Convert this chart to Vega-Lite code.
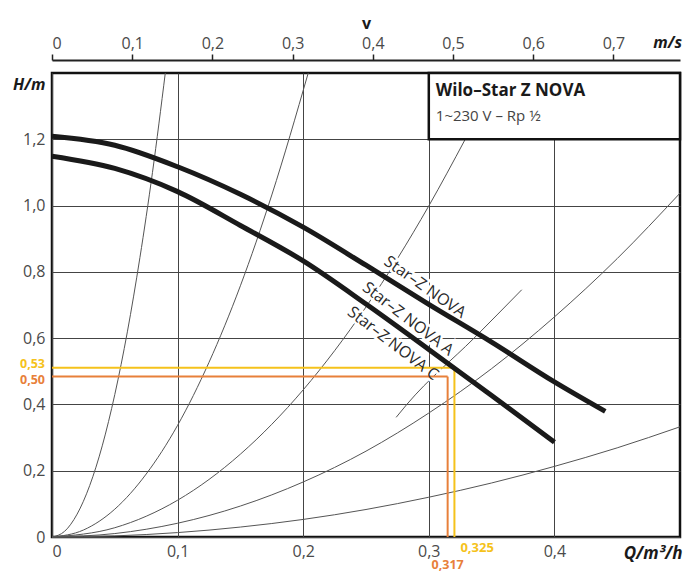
{
  "$schema": "https://vega.github.io/schema/vega-lite/v6.json",
  "width": 628,
  "height": 464,
  "autosize": "none",
  "padding": {"left": 52, "top": 73, "right": 6, "bottom": 36},
  "background": "white",
  "config": {
    "view": {"stroke": "#111111", "strokeWidth": 2.5},
    "axis": {"labelFont": "Open Sans", "titleFont": "Open Sans", "labelColor": "#4a4a4a", "labelFontSize": 16, "titleColor": "#1a1a1a"}
  },
  "datasets": {
    "pump": [
      {"series": "NOVA", "Q": 0, "H": 1.209},
      {"series": "NOVA", "Q": 0.05, "H": 1.182},
      {"series": "NOVA", "Q": 0.1, "H": 1.117},
      {"series": "NOVA", "Q": 0.15, "H": 1.034},
      {"series": "NOVA", "Q": 0.2, "H": 0.935},
      {"series": "NOVA", "Q": 0.25, "H": 0.82},
      {"series": "NOVA", "Q": 0.3, "H": 0.702},
      {"series": "NOVA", "Q": 0.35, "H": 0.588},
      {"series": "NOVA", "Q": 0.4, "H": 0.468},
      {"series": "NOVA", "Q": 0.4405, "H": 0.379},
      {"series": "NOVA A/C", "Q": 0, "H": 1.149},
      {"series": "NOVA A/C", "Q": 0.05, "H": 1.112},
      {"series": "NOVA A/C", "Q": 0.1, "H": 1.042},
      {"series": "NOVA A/C", "Q": 0.15, "H": 0.94},
      {"series": "NOVA A/C", "Q": 0.2, "H": 0.833},
      {"series": "NOVA A/C", "Q": 0.25, "H": 0.703},
      {"series": "NOVA A/C", "Q": 0.3, "H": 0.566},
      {"series": "NOVA A/C", "Q": 0.35, "H": 0.427},
      {"series": "NOVA A/C", "Q": 0.4, "H": 0.286}
    ],
    "system": [
      {"curve": "s1", "Q": 0, "H": 0},
      {"curve": "s1", "Q": 0.01, "H": 0.017},
      {"curve": "s1", "Q": 0.02, "H": 0.069},
      {"curve": "s1", "Q": 0.03, "H": 0.155},
      {"curve": "s1", "Q": 0.04, "H": 0.275},
      {"curve": "s1", "Q": 0.05, "H": 0.43},
      {"curve": "s1", "Q": 0.06, "H": 0.619},
      {"curve": "s1", "Q": 0.07, "H": 0.843},
      {"curve": "s1", "Q": 0.08, "H": 1.1},
      {"curve": "s1", "Q": 0.0902, "H": 1.4},
      {"curve": "s2", "Q": 0, "H": 0},
      {"curve": "s2", "Q": 0.025, "H": 0.021},
      {"curve": "s2", "Q": 0.05, "H": 0.084},
      {"curve": "s2", "Q": 0.075, "H": 0.19},
      {"curve": "s2", "Q": 0.1, "H": 0.337},
      {"curve": "s2", "Q": 0.125, "H": 0.527},
      {"curve": "s2", "Q": 0.15, "H": 0.758},
      {"curve": "s2", "Q": 0.175, "H": 1.032},
      {"curve": "s2", "Q": 0.204, "H": 1.4},
      {"curve": "s3", "Q": 0, "H": 0},
      {"curve": "s3", "Q": 0.05, "H": 0.028},
      {"curve": "s3", "Q": 0.1, "H": 0.111},
      {"curve": "s3", "Q": 0.15, "H": 0.25},
      {"curve": "s3", "Q": 0.2, "H": 0.444},
      {"curve": "s3", "Q": 0.25, "H": 0.694},
      {"curve": "s3", "Q": 0.3, "H": 0.999},
      {"curve": "s3", "Q": 0.329, "H": 1.2},
      {"curve": "s4", "Q": 0, "H": 0},
      {"curve": "s4", "Q": 0.05, "H": 0.0104},
      {"curve": "s4", "Q": 0.1, "H": 0.0415},
      {"curve": "s4", "Q": 0.15, "H": 0.0934},
      {"curve": "s4", "Q": 0.2, "H": 0.166},
      {"curve": "s4", "Q": 0.25, "H": 0.259},
      {"curve": "s4", "Q": 0.3, "H": 0.374},
      {"curve": "s4", "Q": 0.35, "H": 0.508},
      {"curve": "s4", "Q": 0.4, "H": 0.664},
      {"curve": "s4", "Q": 0.45, "H": 0.84},
      {"curve": "s4", "Q": 0.5, "H": 1.0375},
      {"curve": "s5", "Q": 0, "H": 0},
      {"curve": "s5", "Q": 0.05, "H": 0.0033},
      {"curve": "s5", "Q": 0.1, "H": 0.0133},
      {"curve": "s5", "Q": 0.15, "H": 0.03},
      {"curve": "s5", "Q": 0.2, "H": 0.053},
      {"curve": "s5", "Q": 0.25, "H": 0.083},
      {"curve": "s5", "Q": 0.3, "H": 0.12},
      {"curve": "s5", "Q": 0.35, "H": 0.163},
      {"curve": "s5", "Q": 0.4, "H": 0.213},
      {"curve": "s5", "Q": 0.45, "H": 0.269},
      {"curve": "s5", "Q": 0.5, "H": 0.3325},
      {"curve": "seg", "Q": 0.274, "H": 0.361},
      {"curve": "seg", "Q": 0.2825, "H": 0.4},
      {"curve": "seg", "Q": 0.336, "H": 0.6},
      {"curve": "seg", "Q": 0.374, "H": 0.746}
    ],
    "curveLabels": [
      {"text": "Star–Z NOVA", "Q": 0.297, "H": 0.754},
      {"text": "Star–Z NOVA A", "Q": 0.2835, "H": 0.658},
      {"text": "Star–Z NOVA C", "Q": 0.2715, "H": 0.584}
    ],
    "markers": [
      {"m": "y", "Q": 0.3204, "Q2": 0.3204, "H": 0, "H2": 0.511},
      {"m": "y", "Q": 0, "Q2": 0.3204, "H": 0.511, "H2": 0.511},
      {"m": "o", "Q": 0.315, "Q2": 0.315, "H": 0, "H2": 0.484},
      {"m": "o", "Q": 0, "Q2": 0.315, "H": 0.484, "H2": 0.484}
    ]
  },
  "resolve": {"scale": {"x": "independent"}},
  "layer": [
    {
      "layer": [
        {
          "data": {"name": "system"},
          "mark": {"type": "line", "color": "#555555", "strokeWidth": 1, "interpolate": "monotone"},
          "encoding": {
            "x": {"field": "Q", "type": "quantitative", "scale": {"domain": [0, 0.5], "nice": false, "zero": false},
              "axis": {"title": "Q/m³/h", "values": [0, 0.1, 0.2, 0.3, 0.4], "grid": true, "gridColor": "#444444", "gridWidth": 1, "domain": false, "ticks": false, "tickSize": 0, "labelPadding": 6,
                "labelExpr": "datum.value == 0 ? '0' : replace(format(datum.value, '.1f'), '.', ',')",
                "titleFontSize": 17, "titleFontWeight": "bold", "titleFontStyle": "italic", "titleAlign": "right", "titleAnchor": null, "titleX": 630, "titleY": 16, "titleBaseline": "middle"}},
            "y": {"field": "H", "type": "quantitative", "scale": {"domain": [0, 1.4], "nice": false},
              "axis": {"title": "H/m", "values": [0, 0.2, 0.4, 0.6, 0.8, 1.0, 1.2], "grid": true, "gridColor": "#444444", "gridWidth": 1, "domain": false, "ticks": false, "tickSize": 0, "labelPadding": 7,
                "labelExpr": "datum.value == 0 ? '0' : replace(format(datum.value, '.1f'), '.', ',')",
                "titleFontSize": 16, "titleFontWeight": "bold", "titleFontStyle": "italic", "titleAngle": 0, "titleAlign": "right", "titleX": -7, "titleY": 11, "titleBaseline": "middle"}},
            "detail": {"field": "curve"}
          }
        },
        {
          "data": {"name": "curveLabels"},
          "transform": [{"filter": "datum.text == 'Star–Z NOVA'"}],
          "mark": {"type": "text", "font": "Open Sans", "fontSize": 16, "angle": 35, "stroke": "white", "strokeWidth": 5, "color": "white"},
          "encoding": {"x": {"field": "Q", "type": "quantitative"}, "y": {"field": "H", "type": "quantitative"}, "text": {"field": "text"}}
        },
        {
          "data": {"name": "curveLabels"},
          "transform": [{"filter": "datum.text != 'Star–Z NOVA'"}],
          "mark": {"type": "text", "font": "Open Sans", "fontSize": 16, "angle": 37.5, "stroke": "white", "strokeWidth": 5, "color": "white"},
          "encoding": {"x": {"field": "Q", "type": "quantitative"}, "y": {"field": "H", "type": "quantitative"}, "text": {"field": "text"}}
        },
        {
          "data": {"name": "markers"},
          "mark": {"type": "rule", "strokeWidth": 2},
          "encoding": {
            "x": {"field": "Q", "type": "quantitative"},
            "x2": {"field": "Q2"},
            "y": {"field": "H", "type": "quantitative"},
            "y2": {"field": "H2"},
            "color": {"field": "m", "type": "nominal", "scale": {"domain": ["y", "o"], "range": ["#f5c21b", "#e8803a"]}, "legend": null}
          }
        },
        {
          "data": {"name": "pump"},
          "mark": {"type": "line", "color": "#1a1a1a", "strokeWidth": 5, "interpolate": "monotone"},
          "encoding": {
            "x": {"field": "Q", "type": "quantitative"},
            "y": {"field": "H", "type": "quantitative"},
            "detail": {"field": "series"}
          }
        },
        {
          "data": {"name": "curveLabels"},
          "transform": [{"filter": "datum.text == 'Star–Z NOVA'"}],
          "mark": {"type": "text", "font": "Open Sans", "fontSize": 16, "angle": 35, "color": "#2a2a2a"},
          "encoding": {"x": {"field": "Q", "type": "quantitative"}, "y": {"field": "H", "type": "quantitative"}, "text": {"field": "text"}}
        },
        {
          "data": {"name": "curveLabels"},
          "transform": [{"filter": "datum.text != 'Star–Z NOVA'"}],
          "mark": {"type": "text", "font": "Open Sans", "fontSize": 16, "angle": 37.5, "color": "#2a2a2a"},
          "encoding": {"x": {"field": "Q", "type": "quantitative"}, "y": {"field": "H", "type": "quantitative"}, "text": {"field": "text"}}
        },
        {
          "data": {"values": [{"t": "0,53", "Q": 0, "H": 0.511}]},
          "mark": {"type": "text", "font": "Open Sans", "fontSize": 12.5, "fontWeight": "bold", "color": "#f5c21b", "align": "right", "baseline": "middle", "dx": -7, "dy": -4},
          "encoding": {"x": {"field": "Q", "type": "quantitative"}, "y": {"field": "H", "type": "quantitative"}, "text": {"field": "t"}}
        },
        {
          "data": {"values": [{"t": "0,50", "Q": 0, "H": 0.484}]},
          "mark": {"type": "text", "font": "Open Sans", "fontSize": 12.5, "fontWeight": "bold", "color": "#e8803a", "align": "right", "baseline": "middle", "dx": -7, "dy": 3},
          "encoding": {"x": {"field": "Q", "type": "quantitative"}, "y": {"field": "H", "type": "quantitative"}, "text": {"field": "t"}}
        },
        {
          "data": {"values": [{"t": "0,325", "Q": 0.3204, "H": 0}]},
          "mark": {"type": "text", "font": "Open Sans", "fontSize": 13, "fontWeight": "bold", "color": "#f5c21b", "align": "left", "baseline": "middle", "dx": 6, "dy": 11},
          "encoding": {"x": {"field": "Q", "type": "quantitative"}, "y": {"field": "H", "type": "quantitative"}, "text": {"field": "t"}}
        },
        {
          "data": {"values": [{"t": "0,317", "Q": 0.315, "H": 0}]},
          "mark": {"type": "text", "font": "Open Sans", "fontSize": 12.5, "fontWeight": "bold", "color": "#e8803a", "align": "center", "baseline": "middle", "dx": 0, "dy": 28},
          "encoding": {"x": {"field": "Q", "type": "quantitative"}, "y": {"field": "H", "type": "quantitative"}, "text": {"field": "t"}}
        },
        {
          "data": {"values": [{"Q": 0.3, "Q2": 0.5, "H": 1.2, "H2": 1.4}]},
          "mark": {"type": "rect", "fill": "white", "stroke": "#111111", "strokeWidth": 2.5},
          "encoding": {
            "x": {"field": "Q", "type": "quantitative"},
            "x2": {"field": "Q2"},
            "y": {"field": "H", "type": "quantitative"},
            "y2": {"field": "H2"}
          }
        },
        {
          "data": {"values": [{"t": "Wilo–Star Z NOVA", "Q": 0.3, "H": 1.4}]},
          "mark": {"type": "text", "font": "Open Sans", "fontSize": 17, "fontWeight": "bold", "color": "#1a1a1a", "align": "left", "baseline": "middle", "dx": 7, "dy": 18},
          "encoding": {"x": {"field": "Q", "type": "quantitative"}, "y": {"field": "H", "type": "quantitative"}, "text": {"field": "t"}}
        },
        {
          "data": {"values": [{"t": "1~230 V – Rp ½", "Q": 0.3, "H": 1.4}]},
          "mark": {"type": "text", "font": "Open Sans", "fontSize": 15, "color": "#444444", "align": "left", "baseline": "middle", "dx": 7, "dy": 43},
          "encoding": {"x": {"field": "Q", "type": "quantitative"}, "y": {"field": "H", "type": "quantitative"}, "text": {"field": "t"}}
        },
        {
          "data": {"values": [{"t": "m/s", "Q": 0.5, "H": 1.4}]},
          "mark": {"type": "text", "font": "Open Sans", "fontSize": 16, "fontWeight": "bold", "fontStyle": "italic", "color": "#1a1a1a", "align": "right", "baseline": "middle", "dx": 2, "dy": -30},
          "encoding": {"x": {"field": "Q", "type": "quantitative"}, "y": {"field": "H", "type": "quantitative"}, "text": {"field": "t"}}
        }
      ]
    },
    {
      "data": {"values": [{"v": 0}, {"v": 0.783}]},
      "mark": {"type": "point", "opacity": 0},
      "encoding": {
        "x": {"field": "v", "type": "quantitative", "scale": {"domain": [0, 0.783], "nice": false, "zero": false},
          "axis": {"orient": "top", "title": "v", "values": [0, 0.1, 0.2, 0.3, 0.4, 0.5, 0.6, 0.7], "grid": false, "offset": 13, "domain": true, "domainColor": "#222222", "domainWidth": 2, "ticks": true, "tickSize": 6, "tickWidth": 1.5, "tickColor": "#222222", "labelPadding": 3,
            "labelExpr": "datum.value == 0 ? '0' : replace(format(datum.value, '.1f'), '.', ',')",
            "titleFontSize": 16, "titleFontWeight": "bold", "titlePadding": 4}}
      }
    }
  ]
}
